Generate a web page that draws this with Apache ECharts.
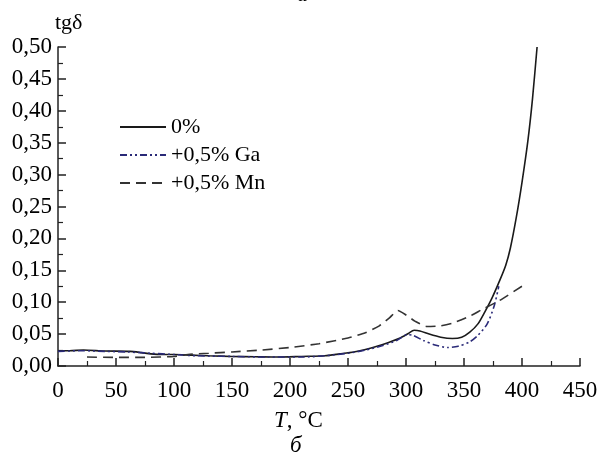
<!DOCTYPE html>
<html>
<head>
<meta charset="utf-8">
<script src="https://cdn.jsdelivr.net/npm/echarts@6/dist/echarts.min.js"></script>
<style>html,body{margin:0;padding:0;background:#fff}#c{width:601px;height:462px}</style>
</head>
<body>
<div id="c"></div>
<script>
// Data
var seriesNames = ['0%', '+0,5% Ga', '+0,5% Mn'];

var t0 = [0, 10, 22, 40, 62, 72, 80, 90, 100, 115, 130, 150, 170, 190, 210, 230, 243, 255, 265, 275, 285, 295, 302, 307, 312, 320, 330, 340, 348, 355, 362, 368, 374, 381, 386, 390, 395, 400, 405, 409, 413];
var v0 = [0.024, 0.024, 0.025, 0.0235, 0.023, 0.021, 0.019, 0.018, 0.018, 0.017, 0.016, 0.015, 0.0145, 0.014, 0.015, 0.016, 0.019, 0.022, 0.026, 0.031, 0.037, 0.044, 0.051, 0.056, 0.055, 0.050, 0.045, 0.043, 0.045, 0.053, 0.066, 0.085, 0.106, 0.135, 0.158, 0.185, 0.232, 0.288, 0.352, 0.418, 0.50];

var tGa = [0, 20, 40, 60, 80, 100, 120, 150, 180, 210, 230, 250, 265, 280, 292, 301, 306, 315, 325, 336, 345, 355, 362, 370, 376, 380];
var vGa = [0.023, 0.024, 0.023, 0.022, 0.020, 0.018, 0.016, 0.015, 0.014, 0.014, 0.016, 0.020, 0.025, 0.032, 0.040, 0.049, 0.048, 0.040, 0.033, 0.029, 0.031, 0.038, 0.048, 0.066, 0.094, 0.125];

var tMn = [25, 50, 75, 100, 112, 130, 150, 175, 200, 225, 250, 265, 277, 286, 293, 300, 308, 318, 330, 340, 355, 366, 380, 400];
var vMn = [0.014, 0.0135, 0.0135, 0.015, 0.018, 0.020, 0.022, 0.025, 0.029, 0.035, 0.044, 0.052, 0.063, 0.076, 0.087, 0.080, 0.070, 0.062, 0.063, 0.067, 0.078, 0.089, 0.102, 0.125];

var xTicks = {min: 0, max: 450, interval: 50};
var yTicks = {min: 0, max: 0.5, interval: 0.05};

function pairs(xs, ys) { return xs.map(function (x, i) { return [x, ys[i]]; }); }

var FONT = 'Liberation Serif, Times New Roman, serif';
var FS = 23;
var chart = echarts.init(document.getElementById('c'), null, {renderer: 'canvas'});
var axisCommon = {
  axisLine: {show: true, onZero: false, lineStyle: {color: '#222', width: 1.5}},
  axisTick: {show: true, inside: true, length: 8, lineStyle: {color: '#222', width: 1.5}},
  minorTick: {show: true, splitNumber: 2, length: 5, lineStyle: {color: '#222', width: 1.2}},
  splitLine: {show: false},
  axisLabel: {color: '#000', fontFamily: FONT, fontSize: FS}
};
chart.setOption({
  animation: false,
  backgroundColor: '#fff',
  grid: {left: 58, right: 21, top: 47, bottom: 96, containLabel: false},
  legend: {
    data: seriesNames,
    orient: 'vertical',
    left: 114, top: 111,
    itemWidth: 46, itemHeight: 14, itemGap: 6,
    itemStyle: {opacity: 0},
    textStyle: {fontFamily: FONT, fontSize: 22, color: '#000'}
  },
  xAxis: Object.assign({}, axisCommon, {
    type: 'value', min: xTicks.min, max: xTicks.max, interval: xTicks.interval,
    axisLabel: Object.assign({}, axisCommon.axisLabel, {margin: 13})
  }),
  yAxis: Object.assign({}, axisCommon, {
    type: 'value', min: yTicks.min, max: yTicks.max, interval: yTicks.interval,
    axisLabel: Object.assign({}, axisCommon.axisLabel, {margin: 6, formatter: function (v) { return v.toFixed(2).replace('.', ','); }})
  }),
  graphic: [
    {type: 'text', left: 55, top: 12, style: {text: 'tgδ', font: '22px ' + FONT, fill: '#000'}},
    {type: 'text', left: 297, top: -16, style: {text: 'а', font: 'italic 22px ' + FONT, fill: '#000'}},
    {type: 'text', left: 274, top: 409, style: {
      text: '{i|T}, °C', font: FS + 'px ' + FONT, fill: '#000',
      rich: {i: {fontStyle: 'italic', fontFamily: FONT, fontSize: FS}}
    }},
    {type: 'text', left: 290, top: 434, style: {text: 'б', font: 'italic ' + FS + 'px ' + FONT, fill: '#000'}}
  ],
  series: [
    {name: seriesNames[0], type: 'line', symbol: 'none', smooth: 0.25, data: pairs(t0, v0),
      lineStyle: {color: '#1a1a1a', width: 1.6, type: 'solid'}, itemStyle: {color: '#1a1a1a'}},
    {name: seriesNames[1], type: 'line', symbol: 'none', smooth: 0.25, data: pairs(tGa, vGa),
      lineStyle: {color: '#2a2a78', width: 1.6, type: [7, 3, 2, 3, 2, 3]}, itemStyle: {color: '#2a2a78'}},
    {name: seriesNames[2], type: 'line', symbol: 'none', smooth: 0.2, data: pairs(tMn, vMn),
      lineStyle: {color: '#333', width: 1.6, type: [10, 6]}, itemStyle: {color: '#333'}}
  ]
});
</script>
</body>
</html>
